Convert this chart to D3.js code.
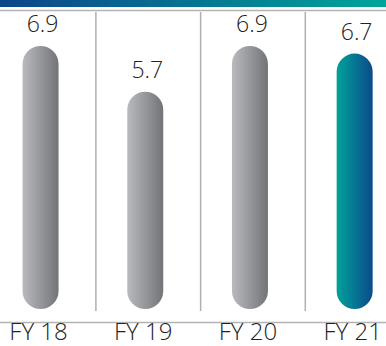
<!DOCTYPE html>
<html>
<head>
<meta charset="utf-8">
<script src="https://cdn.jsdelivr.net/npm/d3@7"></script>
<style>
  html, body { margin: 0; padding: 0; background: #fff; }
  svg { display: block; }
</style>
</head>
<body>
<svg id="chart" width="386" height="346"></svg>
<script>
// Fiscal-year values
const categories = ["FY 18", "FY 19", "FY 20", "FY 21"];
const values = [6.9, 5.7, 6.9, 6.7];
const valueLabels = ["6.9", "5.7", "6.9", "6.7"];
const highlightIndex = 3;

const W = 386, H = 346;
const svg = d3.select("#chart");
const defs = svg.append("defs");

// Gradients
function hGrad(id, from, to) {
  const g = defs.append("linearGradient").attr("id", id)
    .attr("x1", "0%").attr("x2", "100%").attr("y1", "0%").attr("y2", "0%");
  g.append("stop").attr("offset", "0%").attr("stop-color", from);
  g.append("stop").attr("offset", "100%").attr("stop-color", to);
}
hGrad("gray", "#b9babd", "#737477");
hGrad("teal", "#00a29a", "#0c4a8b");
hGrad("band", "#0c4589", "#00a59a");

// Scales
const x = d3.scaleBand().domain(categories).range([-11.8, 407]).padding(0);
const y = d3.scaleLinear().domain([0, 6.9]).range([309, 46]);
const barW = 36;

// Top banner stripe and rule
svg.append("rect").attr("x", 0).attr("y", 0).attr("width", W).attr("height", 7)
  .attr("fill", "url(#band)");
svg.append("line").attr("x1", 0).attr("x2", W).attr("y1", 10.5).attr("y2", 10.5)
  .attr("stroke", "#b3b3b3").attr("stroke-width", 1.5);

// Column separators
const seps = categories.slice(1).map(c => x(c) + 3);
svg.selectAll("line.sep").data(seps).join("line").attr("class", "sep")
  .attr("x1", d => d).attr("x2", d => d)
  .attr("y1", 12).attr("y2", 311)
  .attr("stroke", "#b0b0b0").attr("stroke-width", 1.5);

// Baseline
svg.append("line").attr("x1", 0).attr("x2", W).attr("y1", 322.5).attr("y2", 322.5)
  .attr("stroke", "#b3b3b3").attr("stroke-width", 1.5);

// Pill-shaped bars
svg.selectAll("rect.bar").data(values).join("rect").attr("class", "bar")
  .attr("x", (d, i) => x(categories[i]) + x.bandwidth() / 2 - barW / 2)
  .attr("y", d => y(d))
  .attr("width", barW)
  .attr("height", d => y(0) - y(d))
  .attr("rx", barW / 2).attr("ry", barW / 2)
  .attr("fill", (d, i) => i === highlightIndex ? "url(#teal)" : "url(#gray)");

// Value labels
svg.selectAll("text.val").data(values).join("text").attr("class", "val")
  .attr("x", (d, i) => x(categories[i]) + x.bandwidth() / 2 + 2)
  .attr("y", d => y(d) - 14)
  .attr("text-anchor", "middle")
  .attr("font-family", "Open Sans")
  .attr("font-weight", 300)
  .attr("font-size", 23)
  .attr("fill", "#222")
  .text((d, i) => valueLabels[i]);

// Category labels
svg.selectAll("text.cat").data(categories).join("text").attr("class", "cat")
  .attr("x", d => x(d) + x.bandwidth() / 2 - 2)
  .attr("y", 340)
  .attr("text-anchor", "middle")
  .attr("font-family", "Open Sans")
  .attr("font-weight", 300)
  .attr("font-size", 24)
  .attr("fill", "#222")
  .text(d => d);
</script>
</body>
</html>
